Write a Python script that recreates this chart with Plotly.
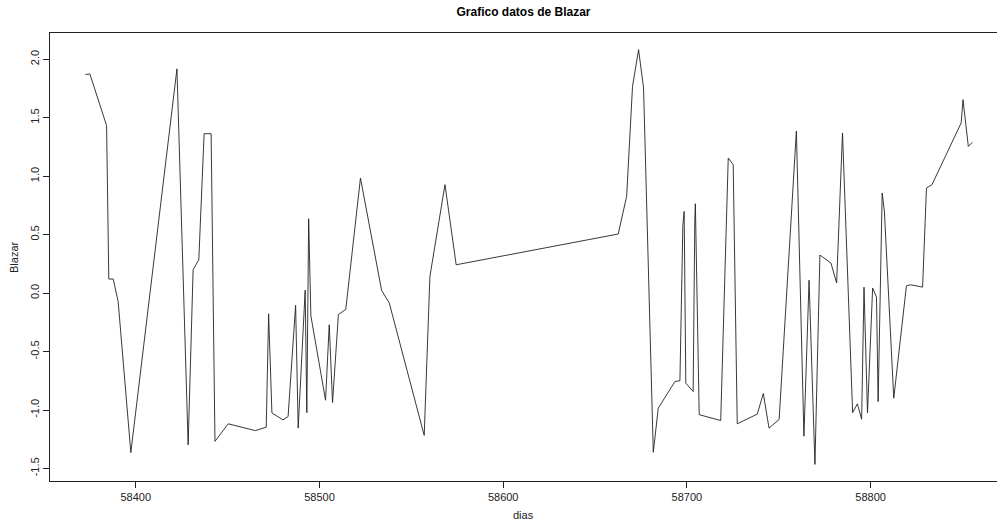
import plotly.graph_objects as go

# Observation days (MJD) and Blazar values
dias = [
    58372.6, 58375.0, 58384.1, 58385.3, 58387.7, 58390.4, 58397.3, 58422.4,
    58428.5, 58431.2, 58434.3, 58437.2, 58441.0, 58443.1, 58450.3, 58465.1,
    58471.0, 58472.3, 58474.1, 58480.1, 58482.9, 58487.0, 58488.4, 58492.2,
    58493.1, 58494.1, 58495.3, 58503.3, 58505.3, 58507.1, 58510.3, 58514.3,
    58522.3, 58533.8, 58538.0, 58557.0, 58560.1, 58568.3, 58574.4, 58662.6,
    58667.2, 58670.4, 58673.7, 58676.4, 58681.7, 58684.4, 58693.5, 58696.2,
    58697.8, 58698.5, 58699.4, 58703.4, 58704.3, 58704.6, 58706.7, 58718.4,
    58722.5, 58725.2, 58727.4, 58738.3, 58741.6, 58744.7, 58750.2, 58759.6,
    58763.7, 58766.5, 58769.7, 58772.4, 58778.4, 58781.5, 58784.7, 58790.2,
    58792.8, 58795.1, 58796.4, 58798.3, 58801.1, 58803.2, 58804.1, 58806.3,
    58807.5, 58812.6, 58819.5, 58821.8, 58828.3, 58830.4, 58833.4, 58849.3,
    58850.3, 58853.2, 58855.4,
]
blazar = [
    1.868, 1.874, 1.432, 0.120, 0.120, -0.072, -1.364, 1.917,
    -1.298, 0.200, 0.285, 1.363, 1.363, -1.268, -1.118, -1.176,
    -1.147, -0.177, -1.025, -1.084, -1.056, -0.105, -1.155, 0.025,
    -1.022, 0.636, -0.194, -0.916, -0.271, -0.936, -0.183, -0.140,
    0.984, 0.024, -0.086, -1.217, 0.142, 0.927, 0.242, 0.505,
    0.827, 1.768, 2.082, 1.754, -1.362, -0.984, -0.756, -0.750,
    0.580, 0.698, -0.770, -0.842, 0.620, 0.764, -1.040, -1.090,
    1.155, 1.098, -1.118, -1.035, -0.859, -1.155, -1.081, 1.386,
    -1.224, 0.110, -1.465, 0.325, 0.257, 0.086, 1.369, -1.022,
    -0.947, -1.079, 0.050, -1.025, 0.043, -0.035, -0.928, 0.856,
    0.700, -0.899, 0.062, 0.071, 0.051, 0.898, 0.927, 1.455,
    1.654, 1.254, 1.289,
]

x_ticks = [58400, 58500, 58600, 58700, 58800]
y_ticks = [-1.5, -1.0, -0.5, 0.0, 0.5, 1.0, 1.5, 2.0]

FONT = "Liberation Sans, Arial, sans-serif"
INK = "#222222"

fig = go.Figure()
fig.add_trace(go.Scatter(
    x=dias, y=blazar, mode="lines",
    line=dict(color=INK, width=0.9),
    showlegend=False, hoverinfo="skip",
))

fig.update_layout(
    width=997, height=522,
    margin=dict(l=50, r=0, t=33, b=41),
    paper_bgcolor="white", plot_bgcolor="white",
    font=dict(family=FONT, size=11, color=INK),
    title=dict(
        text="<b>Grafico datos de Blazar</b>",
        x=0.5, xref="paper", xanchor="center",
        y=1 - 12 / 522, yref="container", yanchor="middle",
        font=dict(family=FONT, size=12, color="black"),
    ),
    xaxis=dict(
        range=[58353.3, 58868.8],
        tickvals=x_ticks, ticktext=[str(v) for v in x_ticks],
        ticks="outside", ticklen=6, tickcolor=INK, tickwidth=1,
        showline=True, linecolor=INK, linewidth=1, mirror=True,
        showgrid=False, zeroline=False,
        tickfont=dict(family=FONT, size=11, color=INK),
    ),
    yaxis=dict(
        range=[-1.607, 2.224],
        tickvals=y_ticks, ticktext=[f"{v:.1f}" for v in y_ticks],
        tickangle=-90,
        ticks="outside", ticklen=6, tickcolor=INK, tickwidth=1,
        showline=True, linecolor=INK, linewidth=1, mirror=False,
        showgrid=False, zeroline=False,
        tickfont=dict(family=FONT, size=11, color=INK),
    ),
    annotations=[
        dict(text="dias", xref="paper", yref="paper",
             x=0.5, y=(481 - 515) / 448, xanchor="center", yanchor="middle",
             showarrow=False, font=dict(family=FONT, size=11, color=INK)),
        dict(text="Blazar", xref="paper", yref="paper",
             x=(14 - 50) / 947, y=0.5, xanchor="center", yanchor="middle",
             textangle=-90, showarrow=False,
             font=dict(family=FONT, size=11, color=INK)),
    ],
)

fig.write_html("out.html")
